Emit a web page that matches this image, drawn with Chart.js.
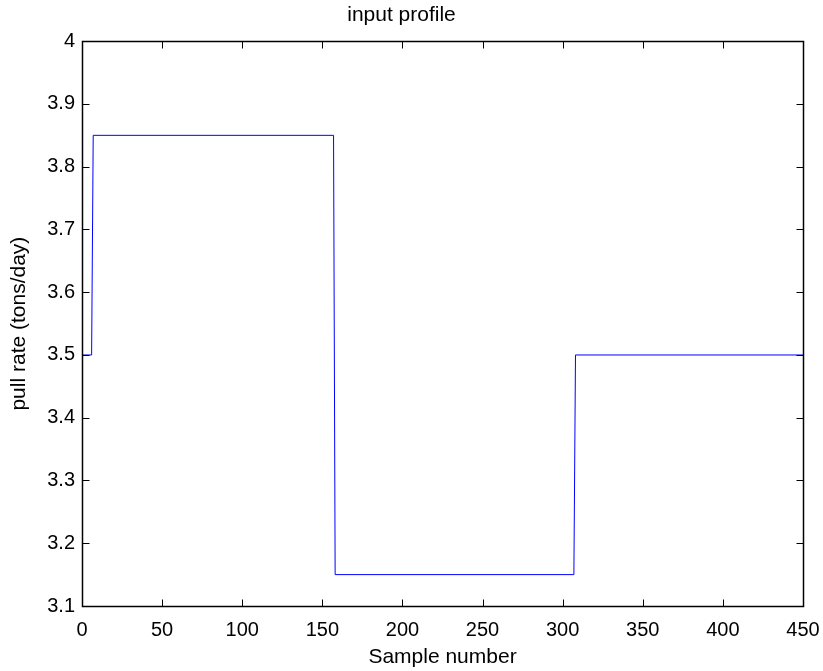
<!DOCTYPE html>
<html>
<head>
<meta charset="utf-8">
<script src="https://cdn.jsdelivr.net/npm/chart.js@4"></script>
<style>
html,body{margin:0;padding:0;background:#fff;}
#wrap{width:823px;height:671px;}
</style>
</head>
<body>
<div id="wrap"><canvas id="chart" width="823" height="671"></canvas></div>
<script>
// pull rate profile, breakpoints of the step input
const sampleNo=[0,6,7,157,158,307,308,450];
const pullRate=[3.5,3.5,3.85,3.85,3.15,3.15,3.5,3.5];

const xTicks=[0,50,100,150,200,250,300,350,400,450];
const yTicks=[3.1,3.2,3.3,3.4,3.5,3.6,3.7,3.8,3.9,4];

const FONT="'Liberation Sans', Arial, sans-serif";

// box round the plot plus inward tick marks on all four sides
const boxTicks={
id:"boxTicks",
afterDraw(c){
const ctx=c.ctx, a=c.chartArea, sx=c.scales.x, sy=c.scales.y;
const L=Math.round(a.left)+0.5, R=Math.round(a.right)+0.5;
const T=Math.round(a.top)+0.5, B=Math.round(a.bottom)+0.5;
const len=7;
ctx.save();
ctx.strokeStyle="#000";
ctx.lineWidth=1;
ctx.beginPath();
xTicks.forEach(v=>{
let px=Math.round(sx.getPixelForValue(v))+0.5;
ctx.moveTo(px,B);ctx.lineTo(px,B-len);
ctx.moveTo(px,T);ctx.lineTo(px,T+len);
});
yTicks.forEach(v=>{
let py=Math.round(sy.getPixelForValue(v))+0.5;
ctx.moveTo(L,py);ctx.lineTo(L+len,py);
ctx.moveTo(R,py);ctx.lineTo(R-len,py);
});
ctx.stroke();
ctx.lineWidth=1.5;
ctx.strokeRect(L,T,R-L,B-T);
ctx.restore();
}
};

new Chart(document.getElementById("chart"),{
type:"line",
data:{
datasets:[{
data:sampleNo.map((x,i)=>({x:x,y:pullRate[i]})),
borderColor:"#0000ff",
borderWidth:1,
pointRadius:0,
fill:false,
tension:0
}]
},
options:{
responsive:false,
animation:false,
layout:{padding:{right:20}},
plugins:{
legend:{display:false},
tooltip:{enabled:false},
title:{display:true,text:"input profile",color:"#000",
font:{family:FONT,size:21,weight:"normal"},lineHeight:1.2,padding:{top:3,bottom:13}}
},
scales:{
x:{
type:"linear",min:0,max:450,
afterBuildTicks:s=>{s.ticks=xTicks.map(v=>({value:v}));},
afterFit:s=>{s.height=65;s.paddingLeft=0;s.paddingRight=0;},
grid:{display:false,drawTicks:false},
border:{display:false},
ticks:{color:"#000",padding:12,font:{family:FONT,size:20},maxRotation:0},
title:{display:true,text:"Sample number",color:"#000",
font:{family:FONT,size:21},padding:{top:0,bottom:1}}
},
y:{
type:"linear",min:3.1,max:4,
afterBuildTicks:s=>{s.ticks=yTicks.map(v=>({value:v}));},
afterFit:s=>{s.width=82;s.paddingTop=0;s.paddingBottom=0;},
grid:{display:false,drawTicks:false},
border:{display:false},
ticks:{color:"#000",padding:7,font:{family:FONT,size:20},
callback:v=>String(+v.toFixed(1))},
title:{display:true,text:"pull rate (tons/day)",color:"#000",
font:{family:FONT,size:21},padding:{top:7,bottom:0}}
}
}
},
plugins:[boxTicks]
});
</script>
</body>
</html>
